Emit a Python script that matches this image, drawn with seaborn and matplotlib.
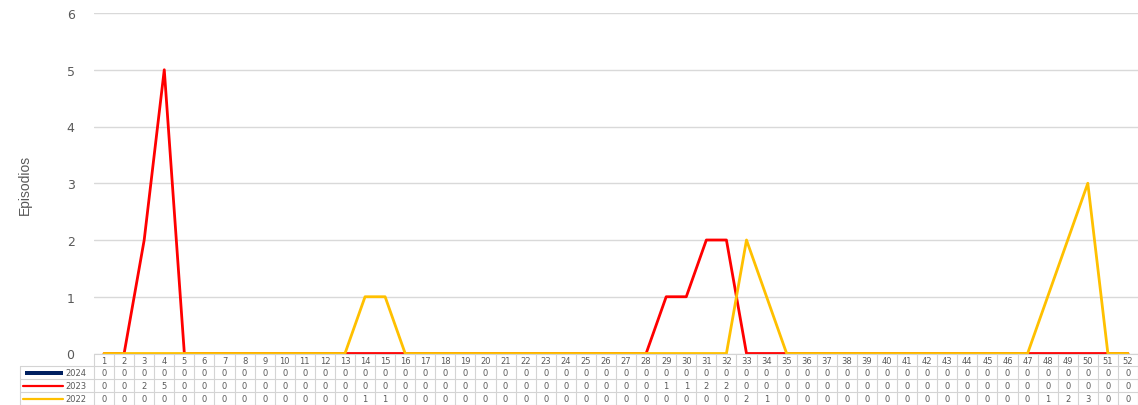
import matplotlib
matplotlib.use("Agg")
import matplotlib.pyplot as plt
from matplotlib.transforms import blended_transform_factory
from matplotlib.lines import Line2D
from matplotlib.patches import Rectangle
import numpy as np
import pandas as pd
import seaborn as sns

# Weekly episodes by epidemiological week
weeks = list(range(1, 53))
s2024 = [0] * 52
s2023 = [0, 0, 2, 5, 0, 0, 0, 0, 0, 0, 0, 0, 0, 0, 0, 0, 0, 0, 0, 0,
         0, 0, 0, 0, 0, 0, 0, 0, 1, 1, 2, 2, 0, 0, 0, 0, 0, 0, 0, 0,
         0, 0, 0, 0, 0, 0, 0, 0, 0, 0, 0, 0]
s2022 = [0, 0, 0, 0, 0, 0, 0, 0, 0, 0, 0, 0, 0, 1, 1, 0, 0, 0, 0, 0,
         0, 0, 0, 0, 0, 0, 0, 0, 0, 0, 0, 0, 2, 1, 0, 0, 0, 0, 0, 0,
         0, 0, 0, 0, 0, 0, 0, 1, 2, 3, 0, 0]
series_names = ["2024", "2023", "2022"]
colors = {"2024": "#002060", "2023": "#FF0000", "2022": "#FFC000"}

sns.set_theme(style="white")
plt.rcParams["font.family"] = ["DejaVu Sans"]

W, H = 1138, 406
fig = plt.figure(figsize=(W / 100, H / 100), dpi=100)
left_px, right_px, top_px, base_px = 94, 1138, 14, 354.5
ax = fig.add_axes([left_px / W, 1 - base_px / H,
                   (right_px - left_px) / W, (base_px - top_px) / H])

text_grey = "#595959"
grid_grey = "#d9d9d9"

# 2024 as columns (all zero), 2023 and 2022 as lines
bars = pd.DataFrame({"week": weeks, "value": s2024})
sns.barplot(data=bars, x="week", y="value", native_scale=True,
            color=colors["2024"], width=0.6, ax=ax, zorder=2)

lines = pd.DataFrame({
    "week": weeks * 2,
    "value": s2023 + s2022,
    "year": ["2023"] * 52 + ["2022"] * 52,
})
sns.lineplot(data=lines, x="week", y="value", hue="year",
             hue_order=["2023", "2022"],
             palette=[colors["2023"], colors["2022"]],
             linewidth=2.0, legend=False, ax=ax, zorder=3)

ax.set_xlim(0.5, 52.5)
ax.set_ylim(0, 6)
ax.set_yticks(range(0, 7))
ax.set_xticks([])
ax.set_xlabel("")
ax.set_ylabel("")
ax.grid(axis="y", color=grid_grey, linewidth=1.0, zorder=0)
ax.grid(axis="x", visible=False)
for sp in ax.spines.values():
    sp.set_visible(False)
ax.tick_params(axis="y", length=0, pad=14, labelsize=9, labelcolor=text_grey)
for lbl in ax.get_yticklabels():
    lbl.set_horizontalalignment("right")

fig.text(25 / W, 1 - 185 / H, "Episodios", rotation=90, ha="center",
         va="center", fontsize=10, color=text_grey,
         family=["Liberation Sans Narrow", "Liberation Sans", "DejaVu Sans"])

# Data table below the plot area
tx = blended_transform_factory(ax.transData, fig.transFigure)
tf = fig.transFigure

def fy(py):
    return 1 - py / H

row_edges = [355, 367, 380, 393, 406]
table_left_px = 20
border = "#d4d4d4"
lw = 0.8

# horizontal borders
x0 = table_left_px / W
x1 = right_px / W
fig.add_artist(Line2D([left_px / W, x1], [fy(row_edges[0])] * 2,
                      color=border, lw=lw, transform=tf))
for py in row_edges[1:-1]:
    fig.add_artist(Line2D([x0, x1], [fy(py)] * 2, color=border, lw=lw, transform=tf))
fig.add_artist(Line2D([x0, x1], [fy(405.5)] * 2, color=border, lw=lw, transform=tf))

# vertical borders
for b in np.arange(0.5, 53.5, 1.0):
    fig.add_artist(Line2D([b, b], [fy(row_edges[0]), fy(406)],
                          color=border, lw=lw, transform=tx))
fig.add_artist(Line2D([x0, x0], [fy(row_edges[1]), fy(406)],
                      color=border, lw=lw, transform=tf))

# header row with week numbers
for w in weeks:
    fig.text(w, fy((row_edges[0] + row_edges[1]) / 2 + 0.5), str(w),
             transform=tx, ha="center", va="center", fontsize=6,
             color=text_grey)

# series rows
values = {"2024": s2024, "2023": s2023, "2022": s2022}
for i, name in enumerate(series_names):
    yc = (row_edges[i + 1] + row_edges[i + 2]) / 2 + 0.5
    for w, v in zip(weeks, values[name]):
        fig.text(w, fy(yc), str(v), transform=tx, ha="center", va="center",
                 fontsize=6, color=text_grey)
    # legend key
    if name == "2024":
        fig.add_artist(Rectangle((25 / W, fy(yc + 2.2)), 38 / W, 4.4 / H,
                                 color=colors[name], transform=tf, lw=0))
    else:
        fig.add_artist(Line2D([23 / W, 63 / W], [fy(yc)] * 2,
                              color=colors[name], lw=1.6, transform=tf))
    fig.text(65 / W, fy(yc), name, transform=tf, ha="left", va="center",
             fontsize=6, color=text_grey)

fig.savefig("out.png", dpi=100)
